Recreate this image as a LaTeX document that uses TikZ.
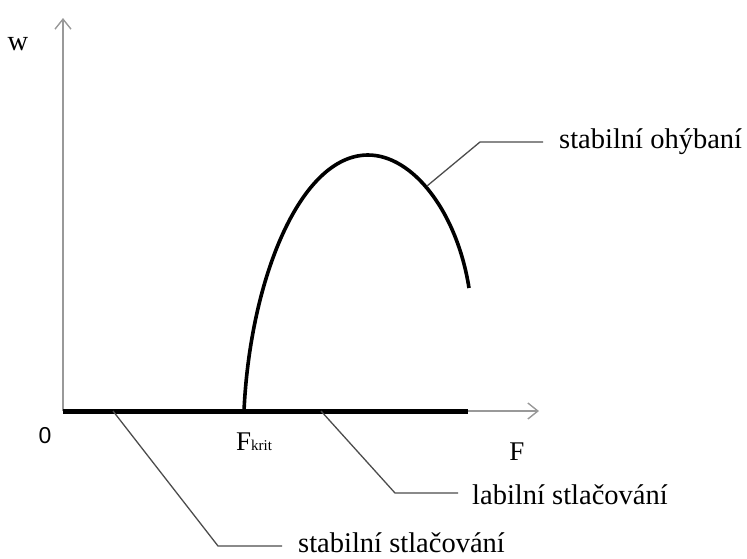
\documentclass[tikz,border=0pt]{standalone}
\usepackage{fontspec}
\setmainfont{Liberation Serif}
\newfontfamily\zerofont{Liberation Sans}
\usetikzlibrary{arrows.meta,positioning}

\begin{document}
\begin{tikzpicture}[
  x=1pt, y=-1pt,
  axis/.style={draw=black!40, line width=1.8pt, -{Straight Barb[length=10pt, width=16pt, line width=1.4pt]}},
  branch/.style={line width=3.6pt, line cap=butt},
  leader/.style={draw=black!70, line width=1.3pt},
  lbl/.style={font=\fontsize{28.5}{32}\selectfont, inner sep=0pt}
]
\useasboundingbox (0,0) rectangle (747,558);
% axes
\coordinate (o) at (63,411);
\coordinate (wtop) at (63,18);
\coordinate (fend) at (539,411);
\draw[axis] (o) -- (wtop);
\draw[axis] (o) -- (fend);
\node[lbl, anchor=base] (w) at (18,50) {w};
\node[lbl, anchor=base, font=\zerofont\fontsize{23}{24}\selectfont] (zero) at (45,443) {0};
\node[lbl, anchor=base, font=\fontsize{27}{30}\selectfont] (f) at (517,460) {F};
\node[lbl, anchor=base west, font=\fontsize{27}{30}\selectfont] (fkrit) at (236,450) {F{\fontsize{15}{16}\selectfont krit}};
% branches
\coordinate (fk) at (244,411);
\coordinate (top) at (368,155);
\coordinate (cend) at (469,288);
\draw[line width=5pt] (o) -- (468,411);
\draw[branch] (fk) .. controls (250,280) and (300,155) .. (top)
  .. controls (413,155) and (457,212) .. (cend);
% labels
\node[lbl, anchor=base west] (ohyb) at (559,148) {stabilní ohýbaní};
\node[lbl, anchor=base west] (labil) at (472,504) {labilní stlačování};
\node[lbl, anchor=base west] (stabil) at (298,552) {stabilní stlačování};
\coordinate (p1) at (427,186);
\coordinate (p2) at (321,411);
\coordinate (p3) at (113,411);
\draw[leader] (p1) -- (480,142) -- (543,142);
\draw[leader] (p2) -- (395,493) -- (458,493);
\draw[leader] (p3) -- (218,546) -- (282,546);
\end{tikzpicture}
\end{document}
